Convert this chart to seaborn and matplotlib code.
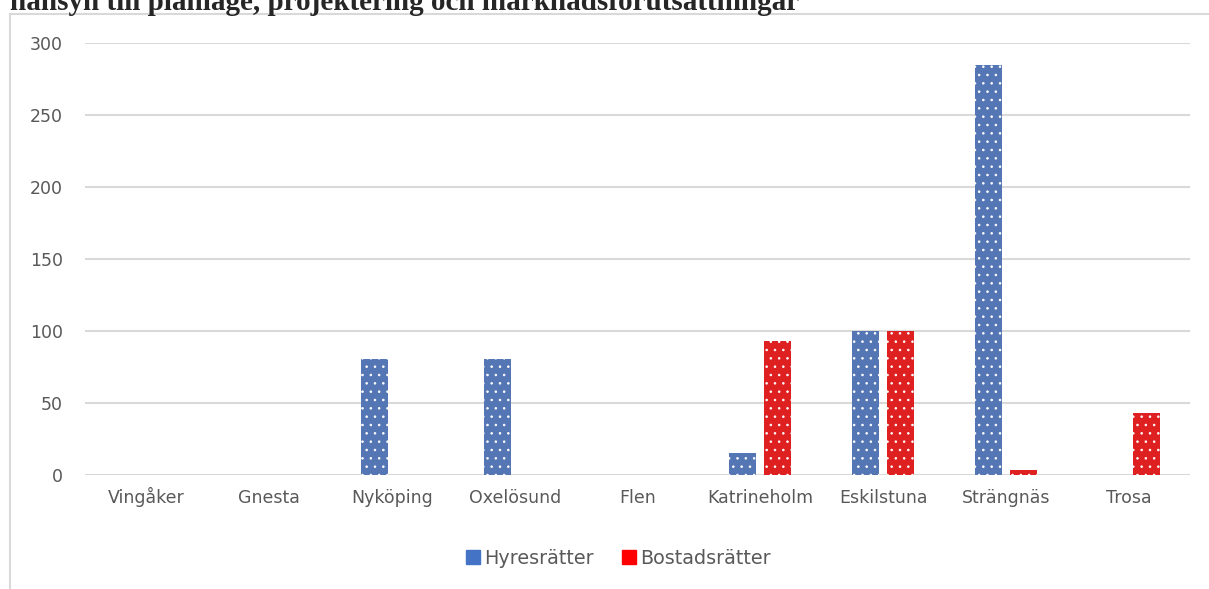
import pandas as pd
import matplotlib
matplotlib.use('Agg')
import matplotlib.pyplot as plt
from matplotlib.patches import Rectangle
from matplotlib.lines import Line2D
import seaborn as sns

# Values
kommuner = ['Vingåker', 'Gnesta', 'Nyköping', 'Oxelösund', 'Flen',
            'Katrineholm', 'Eskilstuna', 'Strängnäs', 'Trosa']
hyresratter = [0, 0, 80, 80, 0, 15, 100, 285, 0]
bostadsratter = [0, 0, 0, 0, 0, 93, 100, 3, 43]
series = ['Hyresrätter', 'Bostadsrätter']
colors = ['#4472C4', '#FF0000']
yticks = [0, 50, 100, 150, 200, 250, 300]

df = pd.DataFrame({
    'kommun': kommuner * 2,
    'antal': hyresratter + bostadsratter,
    'typ': [series[0]] * len(kommuner) + [series[1]] * len(kommuner),
})

sns.set_style('white')
plt.rcParams['font.family'] = ['DejaVu Sans']
plt.rcParams['hatch.linewidth'] = 0.6

fig = plt.figure(figsize=(12.09, 5.89), dpi=100)
ax = fig.add_axes([85 / 1209, 1 - 474.5 / 589, 1105 / 1209, 431.5 / 589])

sns.barplot(data=df, x='kommun', y='antal', hue='typ', order=kommuner,
            hue_order=series, palette=colors, width=0.57, gap=0.23,
            edgecolor='white', linewidth=0, legend=False, ax=ax)

# white dotted fill like the original
for p in ax.patches:
    p.set_hatch('..')

ax.set_ylim(0, 300)
ax.set_yticks(yticks)
ax.set_xlabel('')
ax.set_ylabel('')
ax.yaxis.grid(True, color='#d9d9d9', linewidth=1.5)
ax.set_axisbelow(True)
for s in ax.spines.values():
    s.set_visible(False)
ax.tick_params(axis='both', length=0, labelsize=12.5, labelcolor='#595959')
ax.tick_params(axis='y', pad=16)
ax.tick_params(axis='x', pad=20.5)
for lab in ax.get_xticklabels():
    lab.set_va('baseline')

# outer chart frame
fig.patches.append(Rectangle((10 / 1209, -0.1), 1.2, 1.1 - 14 / 589,
                             transform=fig.transFigure, fill=False,
                             edgecolor='#d9d9d9', linewidth=1.5))

# title, clipped at the top of the picture
fig.text(10 / 1209, 1 - 9.5 / 589,
         'hänsyn till planläge, projektering och marknadsförutsättningar',
         family='Liberation Serif', weight='bold', fontsize=21,
         va='baseline', ha='left')

handles = [Line2D([], [], marker='s', linestyle='', markersize=9.5,
                  markerfacecolor=c, markeredgecolor=c) for c in colors]
fig.legend(handles, series, loc='center', bbox_to_anchor=(618 / 1209, 1 - 558 / 589),
           ncol=2, frameon=False, fontsize=13.8, labelcolor='#595959',
           handletextpad=0.2, columnspacing=1.4, handlelength=0.8)

fig.savefig('out.png', dpi=100)
